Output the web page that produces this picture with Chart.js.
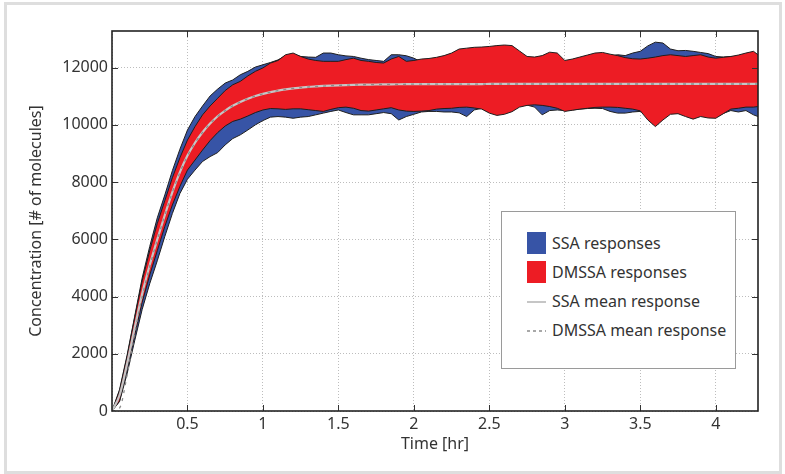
<!DOCTYPE html>
<html><head><meta charset="utf-8">
<script src="https://cdn.jsdelivr.net/npm/chart.js@4"></script>
<style>
html,body{margin:0;padding:0;background:#fff;}
#wrap{position:relative;width:785px;height:474px;overflow:hidden;}
#frame{position:absolute;left:4px;top:2px;width:772px;height:466px;border:3px solid #dedede;}
#c{position:absolute;left:0;top:0;}
#legend{position:absolute;left:501px;top:211px;width:235px;height:158px;box-sizing:border-box;border:1px solid #9a9a9a;background:#fff;font:16px "Noto Sans";color:#333;}
.sw{position:absolute;left:25px;width:19px;height:22px;}
.ln{position:absolute;left:25px;}
.lt{position:absolute;left:50px;line-height:20px;white-space:nowrap;}
</style></head>
<body>
<div id="wrap">
<div id="frame"></div>
<canvas id="c" width="785" height="474"></canvas>
<div id="legend">
  <div class="sw" style="top:20px;background:#3754a6"></div>
  <div class="lt" style="top:21px">SSA responses</div>
  <div class="sw" style="top:49px;background:#ed1c24"></div>
  <div class="lt" style="top:50px">DMSSA responses</div>
  <svg class="ln" style="top:87px" width="19" height="6"><line x1="0" y1="3" x2="19" y2="3" stroke="#c6c6c6" stroke-width="2"/></svg>
  <div class="lt" style="top:79px">SSA mean response</div>
  <svg class="ln" style="top:116px" width="19" height="6"><line x1="0" y1="3" x2="19" y2="3" stroke="#8c8c8c" stroke-width="1.3" stroke-dasharray="3 3"/></svg>
  <div class="lt" style="top:108px">DMSSA mean response</div>
</div>
</div>
<script>
// time [hr]
const times = [
 0, 0.05, 0.1, 0.15, 0.2, 0.25, 0.3, 0.35, 0.4, 0.45,
 0.5, 0.55, 0.6, 0.65, 0.7, 0.75, 0.8, 0.85, 0.9, 0.95,
 1.0, 1.05, 1.1, 1.15, 1.2, 1.25, 1.3, 1.35, 1.4, 1.45,
 1.5, 1.55, 1.6, 1.65, 1.7, 1.75, 1.8, 1.85, 1.9, 1.95,
 2.0, 2.05, 2.1, 2.15, 2.2, 2.25, 2.3, 2.35, 2.4, 2.45,
 2.5, 2.55, 2.6, 2.65, 2.7, 2.75, 2.8, 2.85, 2.9, 2.95,
 3.0, 3.05, 3.1, 3.15, 3.2, 3.25, 3.3, 3.35, 3.4, 3.45,
 3.5, 3.55, 3.6, 3.65, 3.7, 3.75, 3.8, 3.85, 3.9, 3.95,
 4.0, 4.05, 4.1, 4.15, 4.2, 4.25, 4.28];

// SSA responses envelope (upper / lower)
const ssaHi = [
 0, 750, 1950, 3300, 4650, 5750, 6750, 7550, 8400, 9150,
 9820, 10290, 10660, 11010, 11250, 11460, 11570, 11750, 11870, 12020,
 12100, 12180, 12270, 12420, 12450, 12390, 12370, 12360, 12510, 12510,
 12450, 12410, 12390, 12330, 12280, 12250, 12220, 12450, 12450, 12415,
 12330, 12200, 12250, 12300, 12350, 12400, 12500, 12550, 12600, 12600,
 12650, 12650, 12700, 12650, 12450, 12300, 12300, 12350, 12450, 12400,
 12150, 12200, 12300, 12350, 12400, 12450, 12400, 12450, 12420, 12510,
 12570, 12760, 12890, 12860, 12650, 12590, 12600, 12570, 12530, 12490,
 12390, 12370, 12390, 12350, 12400, 12450, 12350];
const ssaLo = [
 0, 330, 1300, 2450, 3550, 4450, 5250, 6100, 6900, 7600,
 8100, 8420, 8720, 8890, 9030, 9300, 9520, 9650, 9820, 10000,
 10150, 10270, 10290, 10270, 10230, 10270, 10290, 10350, 10410, 10470,
 10520, 10430, 10350, 10350, 10350, 10390, 10430, 10390, 10170, 10290,
 10370, 10450, 10470, 10470, 10450, 10450, 10420, 10290, 10520, 10580,
 10430, 10390, 10430, 10500, 10660, 10690, 10620, 10350, 10500, 10520,
 10500, 10520, 10550, 10570, 10580, 10570, 10470, 10410, 10410, 10450,
 10470, 10400, 10450, 10420, 10400, 10420, 10350, 10300, 10320, 10300,
 10280, 10400, 10500, 10450, 10500, 10350, 10290];

// DMSSA responses envelope (upper / lower)
const dmHi = [
 0, 700, 1900, 3250, 4550, 5600, 6550, 7350, 8150, 8850,
 9470, 9940, 10350, 10660, 10930, 11200, 11400, 11520, 11710, 11870,
 11990, 12160, 12250, 12450, 12510, 12390, 12300, 12250, 12220, 12220,
 12220, 12280, 12330, 12250, 12220, 12180, 12160, 12300, 12390, 12220,
 12250, 12300, 12320, 12360, 12420, 12510, 12650, 12680, 12710, 12720,
 12740, 12770, 12790, 12770, 12580, 12390, 12370, 12420, 12540, 12510,
 12250, 12300, 12370, 12440, 12510, 12530, 12470, 12420, 12350, 12310,
 12300, 12330, 12370, 12420, 12450, 12420, 12390, 12420, 12450, 12370,
 12330, 12360, 12390, 12440, 12510, 12570, 12450];
const dmLo = [
 0, 350, 1450, 2650, 3800, 4750, 5600, 6450, 7200, 7850,
 8420, 8770, 9120, 9450, 9730, 9960, 10120, 10200, 10310, 10430,
 10520, 10570, 10560, 10540, 10560, 10560, 10530, 10500, 10470, 10540,
 10600, 10620, 10580, 10500, 10480, 10520, 10560, 10600, 10520, 10480,
 10470, 10480, 10500, 10550, 10570, 10580, 10610, 10620, 10590, 10550,
 10410, 10330, 10370, 10460, 10620, 10680, 10700, 10680, 10640, 10580,
 10470, 10510, 10550, 10580, 10610, 10620, 10620, 10610, 10580, 10550,
 10490, 10170, 9940, 10170, 10370, 10390, 10290, 10200, 10290, 10240,
 10230, 10390, 10550, 10580, 10620, 10620, 10640];

// mean responses
const ssaMean = [
 0, 550, 1650, 2900, 4100, 5100, 6000, 6850, 7650, 8350,
 8925, 9375, 9740, 10045, 10300, 10500, 10665, 10800, 10915, 11007,
 11084, 11145, 11197, 11240, 11274, 11300, 11325, 11343, 11359, 11372,
 11382, 11390, 11397, 11403, 11407, 11411, 11414, 11417, 11419, 11421,
 11423, 11425, 11425, 11425, 11425, 11425, 11425, 11425, 11425, 11425,
 11430, 11430, 11430, 11430, 11430, 11430, 11430, 11430, 11430, 11430,
 11430, 11430, 11430, 11430, 11430, 11430, 11430, 11430, 11430, 11430,
 11430, 11430, 11430, 11430, 11430, 11430, 11430, 11430, 11430, 11430,
 11430, 11430, 11430, 11430, 11430, 11430, 11430];
const dmMean = [
 0, 100, 1250, 2700, 4000, 5050, 5980, 6840, 7640, 8340,
 8915, 9368, 9735, 10040, 10296, 10497, 10662, 10797, 10912, 11004,
 11081, 11142, 11195, 11238, 11272, 11298, 11323, 11341, 11357, 11370,
 11380, 11388, 11395, 11401, 11405, 11409, 11412, 11415, 11417, 11419,
 11421, 11423, 11423, 11423, 11423, 11423, 11423, 11423, 11423, 11423,
 11428, 11428, 11428, 11428, 11428, 11428, 11428, 11428, 11428, 11428,
 11428, 11428, 11428, 11428, 11428, 11428, 11428, 11428, 11428, 11428,
 11428, 11428, 11428, 11428, 11428, 11428, 11428, 11428, 11428, 11428,
 11428, 11428, 11428, 11428, 11428, 11428, 11428];

const yTicks = [0, 2000, 4000, 6000, 8000, 10000, 12000];
const xTicks = [0, 0.5, 1, 1.5, 2, 2.5, 3, 3.5, 4];

const BLUE = '#3754a6', RED = '#ed1c24', EDGE = '#1e1e1e';
const pts = arr => times.map((t, i) => ({x: t, y: arr[i]}));
const FONT = {family: 'Noto Sans', size: 16};

const framePlugin = {
  id: 'frame',
  afterDatasetsDraw(chart) {
    const {ctx, chartArea: a, scales: {x, y}} = chart;
    ctx.save();
    ctx.strokeStyle = '#333'; ctx.lineWidth = 1;
    ctx.beginPath();
    x.ticks.forEach(t => {
      if (t.value <= 0) return;
      const px = Math.round(x.getPixelForValue(t.value)) + 0.5;
      ctx.moveTo(px, a.bottom); ctx.lineTo(px, a.bottom - 6);
      ctx.moveTo(px, a.top); ctx.lineTo(px, a.top + 6);
    });
    y.ticks.forEach(t => {
      if (t.value <= 0) return;
      const py = Math.round(y.getPixelForValue(t.value)) + 0.5;
      ctx.moveTo(a.left, py); ctx.lineTo(a.left + 6, py);
      ctx.moveTo(a.right, py); ctx.lineTo(a.right - 6, py);
    });
    ctx.stroke();
    ctx.strokeStyle = '#222'; ctx.lineWidth = 1.6;
    ctx.strokeRect(a.left, a.top, a.right - a.left, a.bottom - a.top);
    ctx.restore();
  }
};

new Chart(document.getElementById('c'), {
  type: 'line',
  data: {
    datasets: [
      {label: 'DMSSA mean response', data: pts(dmMean), borderColor: '#8c8c8c', borderWidth: 1.3,
       borderDash: [3, 5], cubicInterpolationMode: 'monotone', pointRadius: 0, fill: false},
      {label: 'SSA mean response', data: pts(ssaMean), borderColor: '#c6c6c6', borderWidth: 2.2,
       cubicInterpolationMode: 'monotone', pointRadius: 0, fill: false},
      {label: 'DMSSA upper', data: pts(dmHi), borderColor: EDGE, borderWidth: 1, pointRadius: 0, fill: false},
      {label: 'DMSSA responses', data: pts(dmLo), borderColor: EDGE, borderWidth: 1, pointRadius: 0,
       fill: 2, backgroundColor: RED},
      {label: 'SSA upper', data: pts(ssaHi), borderColor: EDGE, borderWidth: 1, pointRadius: 0, fill: false},
      {label: 'SSA responses', data: pts(ssaLo), borderColor: EDGE, borderWidth: 1, pointRadius: 0,
       fill: 4, backgroundColor: BLUE}
    ]
  },
  options: {
    responsive: false, animation: false, devicePixelRatio: 1,
    layout: {padding: {left: 0, top: 31, right: 27, bottom: 0}},
    elements: {line: {tension: 0}},
    plugins: {legend: {display: false}, tooltip: {enabled: false}},
    scales: {
      x: {
        type: 'linear', min: 0, max: 4.28,
        afterFit: s => { s.height = 63; },
        afterBuildTicks: s => { s.ticks = xTicks.map(v => ({value: v})); },
        grid: {color: '#bdbdbd', lineWidth: 1, drawTicks: false},
        border: {display: false, dash: [1, 2]},
        ticks: {
          autoSkip: false, maxRotation: 0, padding: 4, color: '#333', font: FONT,
          callback: v => v === 0 ? '' : String(v)
        },
        title: {display: true, text: 'Time [hr]', color: '#333', font: FONT, padding: {top: 0, bottom: 20}}
      },
      y: {
        type: 'linear', min: 0, max: 13280,
        afterFit: s => { s.width = 112; },
        afterBuildTicks: s => { s.ticks = yTicks.map(v => ({value: v})); },
        grid: {color: '#bdbdbd', lineWidth: 1, drawTicks: false},
        border: {display: false, dash: [1, 2]},
        ticks: {autoSkip: false, padding: 4, color: '#333', font: FONT, callback: v => String(v)},
        title: {display: true, text: 'Concentration [# of molecules]', color: '#333', font: FONT, padding: {top: 27, bottom: 0}}
      }
    }
  },
  plugins: [framePlugin]
});
</script>
</body></html>
